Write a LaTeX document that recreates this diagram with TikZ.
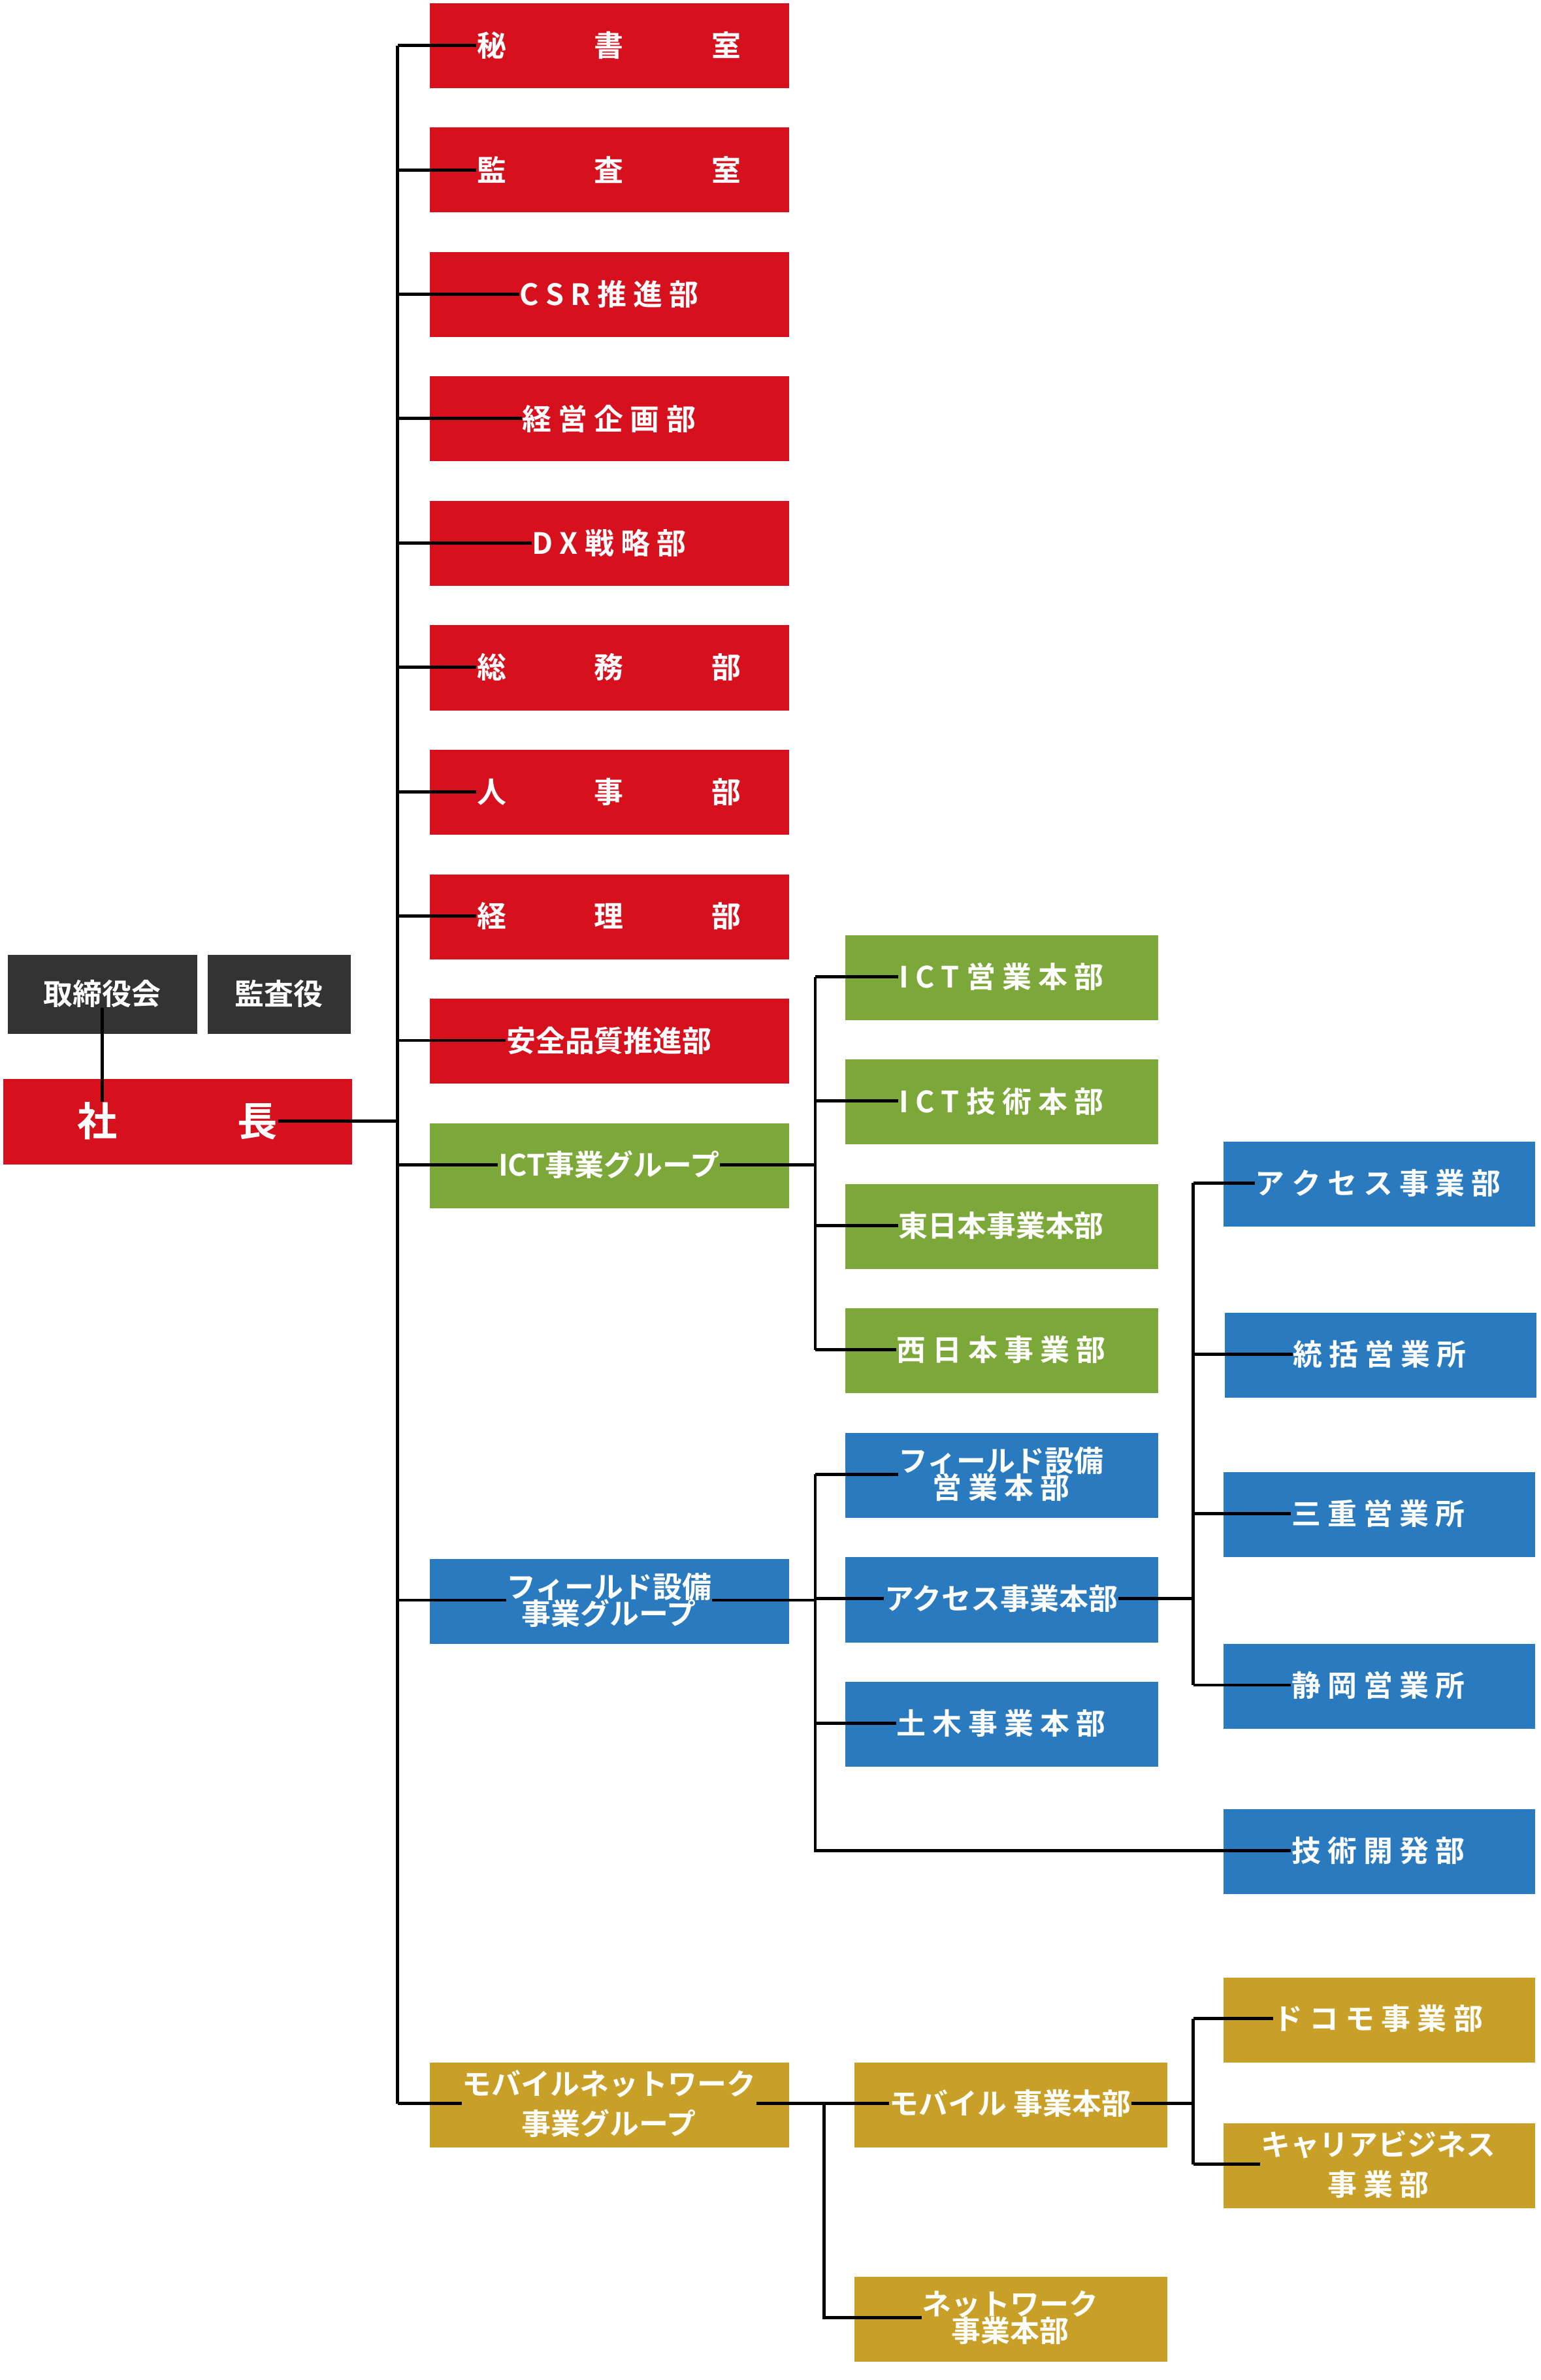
\documentclass[tikz,border=0pt]{standalone}
\usepackage{fontspec}
\setmainfont{Noto Sans CJK JP}[BoldFont={* Bold}]
\definecolor{cred}{HTML}{D7101E}
\definecolor{cgreen}{HTML}{7CA83A}
\definecolor{cblue}{HTML}{2A7ABF}
\definecolor{cgold}{HTML}{C9A027}
\definecolor{cdark}{HTML}{333333}
\tikzset{
 bx/.style={inner sep=0pt,align=center,text=white,font=\bfseries\fontsize{11}{13}\selectfont},
 ln/.style={line width=1.2pt,black}
}
\newcommand{\B}[7]{\fill[#6] (#2*0.02,-#3*0.02) rectangle (#4*0.02,-#5*0.02);
 \node[bx] (#1) at ({(#2+#4)*0.01},{-(#3+#5)*0.01}) {#7};}
\begin{document}
\begin{tikzpicture}
\useasboundingbox (0,0) rectangle (1015*0.02,-1568*0.02);
\B{a1}{283}{2}{520}{58}{cred}{秘　　　書　　　室}
\B{a2}{283}{84}{520}{140}{cred}{監　　　査　　　室}
\B{a3}{283}{166}{520}{222}{cred}{C S R 推 進 部}
\B{a4}{283}{248}{520}{304}{cred}{経 営 企 画 部}
\B{a5}{283}{330}{520}{386}{cred}{D X 戦 略 部}
\B{a6}{283}{412}{520}{468}{cred}{総　　　務　　　部}
\B{a7}{283}{494}{520}{550}{cred}{人　　　事　　　部}
\B{a8}{283}{576}{520}{632}{cred}{経　　　理　　　部}
\B{a9}{283}{658}{520}{714}{cred}{安全品質推進部}
\B{g0}{283}{740}{520}{796}{cgreen}{ICT事業グループ}
\B{b0}{283}{1027}{520}{1083}{cblue}{フィールド設備\\[-3pt]事業グループ}
\B{m0}{283}{1359}{520}{1415}{cgold}{モバイルネットワーク\\[2pt]事業グループ}
\B{tr}{5}{629}{130}{681}{cdark}{取締役会}
\B{ka}{137}{629}{231}{681}{cdark}{監査役}
\B{ps}{2}{711}{232}{767}{cred}{\fontsize{15}{17}\selectfont 社　　　長}
\B{g1}{557}{616}{763}{672}{cgreen}{I C T 営 業 本 部}
\B{g2}{557}{698}{763}{754}{cgreen}{I C T 技 術 本 部}
\B{g3}{557}{780}{763}{836}{cgreen}{東日本事業本部}
\B{g4}{557}{862}{763}{918}{cgreen}{西 日 本 事 業 部}
\B{b1}{557}{944}{763}{1000}{cblue}{フィールド設備\\[-3pt]営 業 本 部}
\B{b2}{557}{1026}{763}{1082}{cblue}{アクセス事業本部}
\B{b3}{557}{1108}{763}{1164}{cblue}{土 木 事 業 本 部}
\B{b4}{806}{1192}{1011}{1248}{cblue}{技 術 開 発 部}
\B{c1}{806}{752}{1011}{808}{cblue}{ア ク セ ス 事 業 部}
\B{c2}{807}{865}{1012}{921}{cblue}{統 括 営 業 所}
\B{c3}{806}{970}{1011}{1026}{cblue}{三 重 営 業 所}
\B{c4}{806}{1083}{1011}{1139}{cblue}{静 岡 営 業 所}
\B{m1}{563}{1359}{769}{1415}{cgold}{モバイル 事業本部}
\B{m2}{563}{1500}{769}{1556}{cgold}{ネットワーク\\[-3pt]事業本部}
\B{d1}{806}{1303}{1011}{1359}{cgold}{ド コ モ 事 業 部}
\B{d2}{806}{1399}{1011}{1455}{cgold}{キャリアビジネス\\[2pt]事 業 部}
% connectors
\draw[ln] (tr.south) -- (tr.south |- ps.north);
\coordinate (t) at (262*0.02,0);
\draw[ln] (ps.east) -- (t |- ps.east);
\draw[ln] (t |- a1.west) -- (t |- m0.west);
\foreach \n in {a1,a2,a3,a4,a5,a6,a7,a8,a9,g0,b0,m0} \draw[ln] (t |- \n.west) -- (\n.west);
\coordinate (u) at (537*0.02,0);
\draw[ln] (g0.east) -- (u |- g0.east);
\draw[ln] (u |- g1.west) -- (u |- g4.west);
\foreach \n in {g1,g2,g3,g4} \draw[ln] (u |- \n.west) -- (\n.west);
\draw[ln] (b0.east) -- (u |- b0.east);
\draw[ln] (u |- b1.west) -- (u |- b4.west) -- (b4.west);
\foreach \n in {b1,b2,b3} \draw[ln] (u |- \n.west) -- (\n.west);
\coordinate (v) at (786*0.02,0);
\draw[ln] (b2.east) -- (v |- b2.east);
\draw[ln] (v |- c1.west) -- (v |- c4.west);
\foreach \n in {c1,c2,c3,c4} \draw[ln] (v |- \n.west) -- (\n.west);
\coordinate (w) at (543*0.02,0);
\draw[ln] (m0.east) -- (m1.west);
\draw[ln] (w |- m1.west) -- (w |- m2.west) -- (m2.west);
\draw[ln] (m1.east) -- (v |- m1.east);
\draw[ln] (v |- d1.west) -- (v |- d2.west);
\foreach \n in {d1,d2} \draw[ln] (v |- \n.west) -- (\n.west);
\end{tikzpicture}
\end{document}
